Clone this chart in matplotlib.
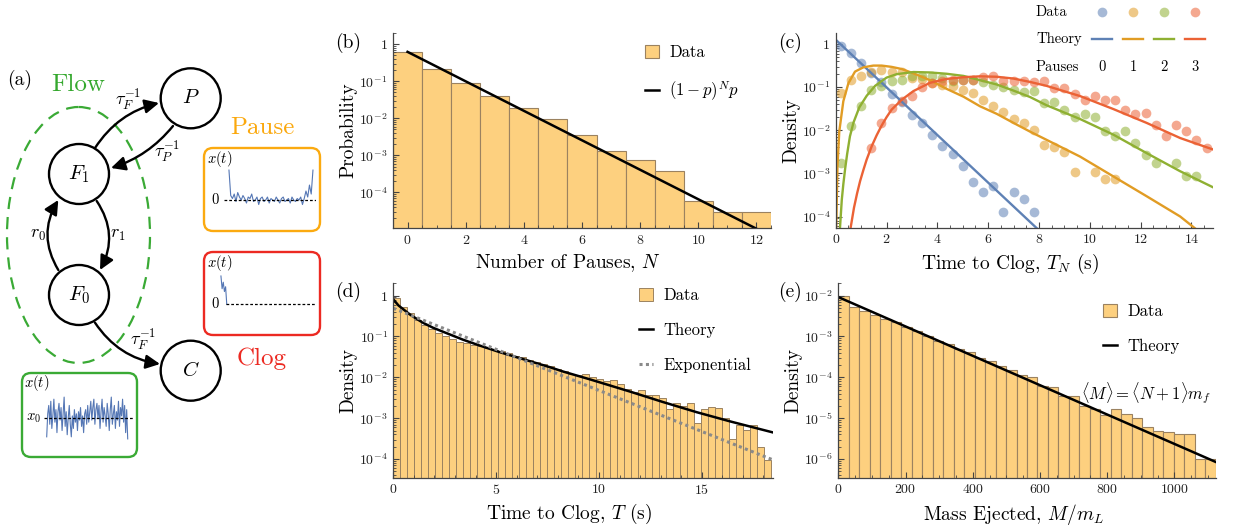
import matplotlib
matplotlib.use("Agg")
import matplotlib.pyplot as plt
import numpy as np
from matplotlib.patches import Circle, Ellipse, FancyArrowPatch, FancyBboxPatch
from matplotlib.ticker import FuncFormatter, LogLocator, MultipleLocator, NullFormatter

W, H = 1233, 529

plt.rcParams.update({
    "font.family": "cmr10",
    "mathtext.fontset": "cm",
    "axes.formatter.use_mathtext": True,
})

BLUE, ORANGE, GREEN, RED = "#5E81B5", "#E19C24", "#8FB032", "#EB6235"
BAR_FACE, BAR_EDGE = "#FDD07F", "#9B8260"
AXC = "#444444"
LABEL_SIZE = 14

# ---- (a) schematic traces (arbitrary units)
FLOW_SIG = [-0.9, 0.2, 0.6, -0.3, 0.8, -0.5, 0.1, 0.9, -0.2, 0.4, -0.7, 0.3, 0.7, -0.1,
            0.5, -0.6, 0.2, 1.0, -0.4, 0.3, -0.8, 0.0, 0.6, -0.3, -0.9, 0.1, -0.5, 0.4,
            -0.2, 0.2, -0.6, 0.3, -0.1, 0.5, -0.4, 0.1, -0.7, 0.2, 0.4, -0.3, 0.6, -0.2,
            0.3, 0.8, -0.1, 0.5, 0.9, -0.3, 0.4, 0.7, 0.0, 0.6, -0.5, 0.3, 0.9, -0.2, 0.5,
            0.1, -0.4, 0.7, 0.2, -0.6, 0.4, 1.0, -0.3, 0.2, 0.6, -0.5, 0.3, -0.1, 0.8,
            -0.4, 0.5, 0.1, 0.9, -0.2, 0.6, -0.7, 0.4, -1.0]
PAUSE_SIG = [1.0, 0.15, 0.05, 0.2, -0.05, 0.25, 0.1, 0.0, 0.15, 0.05, -0.1, 0.1, 0.05, 0.2,
             -0.05, 0.0, 0.1, -0.15, 0.05, 0.1, -0.05, 0.0, 0.1, -0.1, 0.05, 0.0, -0.05,
             0.1, 0.0, -0.1, 0.05, 0.1, -0.05, 0.0, 0.05, -0.1, 0.1, 0.0, -0.05, 0.05, 0.0,
             0.1, -0.15, 0.05, 0.3, 0.1, 0.5, 0.2, 1.0]
CLOG_SIG = [1.0, 0.55, 0.78, 0.45, 0.62, 0.0]

# ---- (b) number of pauses
N_PAUSES = list(range(13))
P_PAUSES = [0.63, 0.21, 0.092, 0.040, 0.019, 0.0096, 0.0035, 0.0013, 7.6e-4, 3.8e-4,
            5.9e-5, 2.9e-5, 2.9e-5]
GEOM_N = [0, 12]
GEOM_P = [0.62, 1.05e-5]

# ---- (c) time to clog conditioned on N pauses
T0_DATA = [0.2, 0.6, 1.0, 1.4, 1.8, 2.2, 2.6, 3.0, 3.4, 3.8, 4.2, 4.6, 5.0, 5.4, 5.8, 6.2,
           6.6, 7.0, 7.4, 7.8]
D0_DATA = [0.9, 0.62, 0.37, 0.21, 0.13, 0.068, 0.045, 0.023, 0.0145, 0.0079, 0.0044,
           0.0028, 0.0015, 6.2e-4, 3.8e-4, 5.0e-4, 1.3e-4, 3.8e-4, 2.5e-4, 1.3e-4]
T1_DATA = [0.2, 0.6, 1.0, 1.4, 1.8, 2.2, 2.6, 3.0, 3.4, 3.8, 4.2, 4.6, 5.0, 5.4, 5.8, 6.2,
           6.6, 7.0, 7.4, 7.8, 8.2, 8.6, 9.0, 9.4, 10.2, 10.6, 11.0]
D1_DATA = [0.075, 0.144, 0.18, 0.22, 0.25, 0.23, 0.22, 0.16, 0.155, 0.124, 0.11, 0.107,
           0.087, 0.075, 0.051, 0.037, 0.027, 0.018, 0.015, 0.0099, 0.0046, 0.0041, 0.0032,
           0.0011, 0.0011, 7.4e-4, 7.4e-4]
T2_DATA = [0.2, 0.6, 1.0, 1.4, 1.8, 2.2, 2.6, 3.0, 3.4, 3.8, 4.2, 4.6, 5.0, 5.4, 5.8, 6.2,
           6.6, 7.0, 7.4, 7.8, 8.2, 8.6, 9.0, 9.4, 9.8, 10.2, 10.6, 11.0, 11.4, 11.8, 12.2,
           12.6, 13.4, 13.8, 14.2]
D2_DATA = [0.0017, 0.0123, 0.037, 0.085, 0.105, 0.14, 0.15, 0.178, 0.18, 0.18, 0.16, 0.14,
           0.15, 0.15, 0.13, 0.11, 0.10, 0.087, 0.076, 0.080, 0.044, 0.045, 0.030, 0.020,
           0.024, 0.020, 0.0094, 0.0075, 0.0094, 0.0050, 0.0026, 0.00174, 0.00174, 8.6e-4,
           8.8e-4]
T3_DATA = [1.4, 1.8, 2.2, 2.6, 3.0, 3.4, 3.8, 4.2, 4.6, 5.0, 5.4, 5.8, 6.2, 6.6, 7.0, 7.4,
           7.8, 8.2, 8.6, 9.0, 9.4, 9.8, 10.2, 10.6, 11.0, 11.4, 11.8, 12.2, 12.6, 13.0,
           13.4, 13.8, 14.2, 14.6]
D3_DATA = [0.0038, 0.015, 0.033, 0.048, 0.062, 0.10, 0.127, 0.14, 0.148, 0.145, 0.15,
           0.175, 0.18, 0.14, 0.14, 0.136, 0.13, 0.136, 0.095, 0.095, 0.07, 0.049, 0.061,
           0.049, 0.049, 0.030, 0.024, 0.025, 0.0134, 0.0075, 0.0134, 0.0098, 0.0058, 0.0039]

T0_TH = [0.0, 8.0]
D0_TH = [1.26, 4.8e-5]
T1_TH = [0.02, 0.07, 0.14, 0.3, 0.5, 0.76, 1.09, 1.48, 1.81, 2.2, 2.6, 3.06, 3.71, 4.37,
         5.03, 5.68, 6.34, 7.0, 7.65, 8.3, 9.62, 10.93, 12.24, 13.56, 14.2]
D1_TH = [5.6e-5, 1.45e-3, 9.3e-3, 0.047, 0.123, 0.229, 0.288, 0.316, 0.316, 0.295, 0.263,
         0.209, 0.145, 0.091, 0.060, 0.036, 0.024, 0.0148, 0.0093, 0.0060, 0.00245, 8.5e-4,
         2.95e-4, 1.0e-4, 5.0e-5]
T2_TH = [0.17, 0.24, 0.30, 0.37, 0.45, 0.56, 0.70, 0.93, 1.22, 1.55, 2.0, 2.4, 3.06, 3.71,
         4.37, 5.03, 5.68, 6.34, 7.0, 7.65, 8.3, 9.62, 10.93, 12.24, 13.56, 14.84]
D2_TH = [5.6e-5, 2.45e-4, 5.6e-4, 1.26e-3, 2.8e-3, 7.2e-3, 0.0151, 0.034, 0.063, 0.107,
         0.166, 0.20, 0.224, 0.219, 0.204, 0.182, 0.145, 0.115, 0.083, 0.059, 0.038, 0.0182,
         0.0079, 0.00295, 0.00112, 4.8e-4]
T3_TH = [0.59, 0.72, 0.84, 0.96, 1.09, 1.22, 1.42, 1.61, 1.8, 2.0, 2.2, 2.6, 3.06, 3.71,
         4.37, 5.03, 5.68, 6.34, 7.0, 7.65, 8.3, 9.62, 10.93, 12.24, 13.56, 14.84]
D3_TH = [5.6e-5, 1.6e-4, 3.4e-4, 6.6e-4, 1.2e-3, 2.1e-3, 4.3e-3, 7.6e-3, 0.0126, 0.020,
         0.030, 0.051, 0.081, 0.126, 0.155, 0.170, 0.178, 0.174, 0.158, 0.132, 0.107, 0.062,
         0.031, 0.0148, 0.0066, 0.0036]

# ---- (d) time to clog
T_BIN = 0.34
T_HIST = [0.88, 0.52, 0.38, 0.26, 0.19, 0.15, 0.12, 0.10, 0.085, 0.075, 0.068, 0.063, 0.058,
          0.052, 0.047, 0.043, 0.039, 0.034, 0.031, 0.027, 0.024, 0.021, 0.019, 0.016, 0.014,
          0.012, 0.0115, 0.012, 0.010, 0.0090, 0.0082, 0.0087, 0.0068, 0.0052, 0.0045, 0.0049,
          0.0038, 0.0037, 0.0031, 0.00165, 0.0024, 0.0020, 0.0024, 0.00075, 0.0017, 0.0019,
          0.0018, 0.0010, 0.00031, 0.00069, 0.00052, 0.00069, 0.00020, 0.000096]
T_THEORY = [0, 0.25, 0.5, 0.8, 1.14, 1.46, 1.95, 2.6, 3.4, 4.2, 5.2, 6.3, 7.6, 8.27, 9.57,
            11.5, 13.1, 14.76, 16.4, 18.45]
D_THEORY = [0.81, 0.575, 0.457, 0.347, 0.269, 0.214, 0.162, 0.120, 0.083, 0.060, 0.041,
            0.028, 0.0178, 0.0138, 0.0089, 0.0045, 0.0025, 0.0014, 8.3e-4, 4.5e-4]
T_EXP = [0, 18.45]
D_EXP = [0.49, 9.6e-5]

# ---- (e) mass ejected
M_BIN = 31.2
M_HIST = [0.0098, 0.0052, 0.0041, 0.0034, 0.0027, 0.0022, 0.00175, 0.00139, 0.00104, 7.9e-4,
          6.5e-4, 5.0e-4, 4.1e-4, 2.9e-4, 2.5e-4, 1.9e-4, 1.47e-4, 1.15e-4, 1.0e-4, 6.2e-5,
          5.8e-5, 3.4e-5, 3.4e-5, 2.0e-5, 1.7e-5, 1.17e-5, 1.66e-5, 1.26e-5, 1.0e-5, 6.0e-6,
          5.0e-6, 4.5e-6, 4.0e-6, 4.0e-6, 1.0e-6, 1.0e-6]
M_THEORY = [0, 1123.2]
DM_THEORY = [0.0092, 8.5e-7]


def log_fmt(v, pos):
    e = int(round(np.log10(v)))
    return "$1$" if e == 0 else r"$10^{%d}$" % e


def px_axes(x0, y0, x1, y1):
    """Axes placed by pixel box (top-left origin)."""
    return fig.add_axes([x0 / W, 1 - y1 / H, (x1 - x0) / W, (y1 - y0) / H])


def style(ax, ylim, xlabel, ylabel):
    for s in ("top", "right"):
        ax.spines[s].set_visible(False)
    for s in ("left", "bottom"):
        ax.spines[s].set_color(AXC)
        ax.spines[s].set_linewidth(0.9)
    ax.set_yscale("log")
    ax.set_ylim(*ylim)
    ax.yaxis.set_major_locator(LogLocator(base=10, numticks=20))
    ax.yaxis.set_minor_locator(LogLocator(base=10, subs=np.arange(2, 10), numticks=20))
    ax.yaxis.set_major_formatter(FuncFormatter(log_fmt))
    ax.yaxis.set_minor_formatter(NullFormatter())
    ax.tick_params(which="both", direction="in", colors=AXC, labelcolor="#222222",
                   labelsize=10)
    ax.tick_params(which="major", length=4.5, width=0.8, pad=4)
    ax.tick_params(which="minor", length=2.3, width=0.6)
    ax.patch.set_alpha(0)
    ax.set_xlabel(xlabel, fontsize=LABEL_SIZE)
    ax.set_ylabel(ylabel, fontsize=LABEL_SIZE)
    ax.xaxis.set_label_coords(0.463, -0.125)
    ax.yaxis.set_label_coords(-0.095, 0.5)


def legend(ax, handles, labels, x, y, size=12):
    ax.legend(handles, labels, loc="upper left", bbox_to_anchor=(x / W, 1 - y / H),
              bbox_transform=fig.transFigure, frameon=False, fontsize=size,
              borderpad=0, borderaxespad=0, handlelength=0.85, handleheight=0.75,
              handletextpad=0.6, labelspacing=1.17)


fig = plt.figure(figsize=(W / 100, H / 100), dpi=100)

# ---------------- (b)
axb = px_axes(393, 33, 771, 228)
style(axb, (1.1e-5, 2), "Number of Pauses, $N$", "Probability")
bars_b = axb.bar(N_PAUSES, P_PAUSES, width=1.0, bottom=1e-9, color=BAR_FACE,
                 edgecolor=BAR_EDGE, linewidth=0.8)
line_b, = axb.plot(GEOM_N, GEOM_P, color="black", lw=1.8)
axb.set_xlim(-0.5, 12.5)
axb.xaxis.set_major_locator(MultipleLocator(2))
axb.xaxis.set_minor_locator(MultipleLocator(0.5))
legend(axb, [bars_b, line_b], ["Data", r"$(1-p)^N p$"], 645, 45)

# ---------------- (c)
axc = px_axes(835.7, 33, 1212.7, 227.7)
style(axc, (5.5e-5, 1.8), "Time to Clog, $T_N$ (s)", "Density")
series_c = [(T0_DATA, D0_DATA, T0_TH, D0_TH, BLUE), (T1_DATA, D1_DATA, T1_TH, D1_TH, ORANGE),
            (T2_DATA, D2_DATA, T2_TH, D2_TH, GREEN), (T3_DATA, D3_DATA, T3_TH, D3_TH, RED)]
for td, dd, tt, dt, col in series_c:
    axc.plot(td, dd, "o", color=col, alpha=0.55, ms=7, mew=0)
for td, dd, tt, dt, col in series_c:
    axc.plot(tt, dt, color=col, lw=1.7)
axc.set_xlim(0, 14.84)
axc.xaxis.set_major_locator(MultipleLocator(2))
axc.xaxis.set_minor_locator(MultipleLocator(0.5))

# ---------------- (d)
axd = px_axes(393.3, 283.3, 772.7, 477.7)
style(axd, (3.5e-5, 2), "Time to Clog, $T$ (s)", "Density")
bars_d = axd.bar(T_BIN * np.arange(len(T_HIST)), T_HIST, width=T_BIN, align="edge",
                 bottom=1e-9, color=BAR_FACE, edgecolor=BAR_EDGE, linewidth=0.7)
line_d, = axd.plot(T_THEORY, D_THEORY, color="black", lw=1.8)
exp_d, = axd.plot(T_EXP, D_EXP, color="#8A8A8A", lw=2.2, ls=(0, (1, 1.1)))
axd.set_xlim(0, 18.45)
axd.xaxis.set_major_locator(MultipleLocator(5))
axd.xaxis.set_minor_locator(MultipleLocator(1))
legend(axd, [bars_d, line_d, exp_d], ["Data", "Theory", "Exponential"], 639, 288)

# ---------------- (e)
axe = px_axes(838.3, 283.3, 1215.7, 477.7)
style(axe, (3.5e-7, 0.02), "Mass Ejected, $M/m_L$", "Density")
bars_e = axe.bar(M_BIN * np.arange(len(M_HIST)), M_HIST, width=M_BIN, align="edge",
                 bottom=1e-12, color=BAR_FACE, edgecolor=BAR_EDGE, linewidth=0.8)
line_e, = axe.plot(M_THEORY, DM_THEORY, color="black", lw=1.8)
axe.set_xlim(0, 1123.2)
axe.xaxis.set_major_locator(MultipleLocator(200))
axe.xaxis.set_minor_locator(MultipleLocator(50))
legend(axe, [bars_e, line_e], ["Data", "Theory"], 1103, 304)

# ---------------- overlay in pixel coordinates: (a) schematic, panel tags, (c) key
axa = fig.add_axes([0, 0, 1, 1])
axa.set_xlim(0, W)
axa.set_ylim(H, 0)
axa.axis("off")
axa.set_zorder(5)
axa.text(1146, 393, r"$\langle M\rangle = \langle N+1\rangle m_f$", fontsize=12,
         ha="center", va="center")

for tag, x, y in [("(a)", 20, 80), ("(b)", 348, 43), ("(c)", 790, 43),
                  ("(d)", 348, 292), ("(e)", 790, 292)]:
    axa.text(x, y, tag, fontsize=14, ha="center", va="center")

# (c) key laid out as a small grid
key_cols = [1102.3, 1133.3, 1164.3, 1195.0]
for lab, yy in [("Data", 11.7), ("Theory", 39.3), ("Pauses", 66.7)]:
    axa.text(1036, yy, lab, fontsize=10.5, ha="left", va="center")
for i, (xc, col) in enumerate(zip(key_cols, [BLUE, ORANGE, GREEN, RED])):
    axa.plot([xc], [11.7], "o", color=col, alpha=0.55, ms=7, mew=0)
    axa.plot([xc - 10, xc + 10], [39.3, 39.3], color=col, lw=1.7)
    axa.text(xc, 66.7, str(i), fontsize=10.5, ha="center", va="center")

# state diagram
nodes = {"P": (190.7, 98.3), "F1": (79, 174), "F0": (79, 295), "C": (190.7, 370.7)}
labels = {"P": "$P$", "F1": "$F_1$", "F0": "$F_0$", "C": "$C$"}
axa.add_patch(Ellipse((78.5, 235), 143, 256, fill=False, ec="#3AAA35", lw=1.6,
                      ls=(0, (5.5, 3.6))))
for k, (x, y) in nodes.items():
    axa.add_patch(Circle((x, y), 30, fc="white", ec="black", lw=1.7, zorder=3))
    axa.text(x, y, labels[k], fontsize=15, ha="center", va="center", zorder=4)


def arrow(p0, p1, rad):
    axa.add_patch(FancyArrowPatch(p0, p1, connectionstyle=f"arc3,rad={rad}",
                                  arrowstyle="-|>,head_length=0.85,head_width=0.42",
                                  mutation_scale=10, lw=1.7, color="black",
                                  shrinkA=0, shrinkB=0, zorder=4))


arrow((95, 148), (159, 103), -0.2)
arrow((173, 126), (111, 168), -0.15)
arrow((96.7, 201), (100, 270), -0.3)
arrow((58.3, 270), (58.3, 200), -0.3)
arrow((95, 322.7), (160, 364), 0.22)

axa.text(128, 100, r"$\tau_F^{-1}$", fontsize=13, ha="center", va="center")
axa.text(167, 152, r"$\tau_P^{-1}$", fontsize=13, ha="center", va="center")
axa.text(118, 235, r"$r_1$", fontsize=13, ha="center", va="center")
axa.text(38, 235, r"$r_0$", fontsize=13, ha="center", va="center")
axa.text(143, 340, r"$\tau_F^{-1}$", fontsize=13, ha="center", va="center")

axa.text(78, 85, "Flow", fontsize=18, color="#35A82E", ha="center", va="center")
axa.text(262, 128, "Pause", fontsize=18, color="#FBA80C", ha="center", va="center")
axa.text(262, 359, "Clog", fontsize=18, color="#EC2A22", ha="center", va="center")

for (x, y, w, h), col in [((204, 148, 116, 83), "#FBAA10"), ((204, 252, 116, 83), "#EC2A22"),
                          ((22, 373, 115, 84), "#3AAA35")]:
    axa.add_patch(FancyBboxPatch((x, y), w, h, boxstyle="round,pad=0,rounding_size=9",
                                 fill=False, ec=col, lw=1.7))

for x, y in [(220, 159), (220, 263), (37, 383)]:
    axa.text(x, y, "$x(t)$", fontsize=10.5, ha="center", va="center")
axa.text(215, 200, "$0$", fontsize=10.5, ha="center", va="center")
axa.text(215, 304, "$0$", fontsize=10.5, ha="center", va="center")
axa.text(33, 418, "$x_0$", fontsize=10.5, ha="center", va="center")

TRACE = "#5577B5"
DASH = (0, (2.2, 1.6))

ax_fl = px_axes(44, 395, 134, 441)
ax_fl.axis("off")
ax_fl.set_xlim(0, 1)
ax_fl.set_ylim(-1.1, 1.1)
ax_fl.plot(np.linspace(0.03, 0.93, len(FLOW_SIG)), FLOW_SIG, color=TRACE, lw=0.8)
ax_fl.axhline(0, color="black", lw=0.9, ls=DASH)

ax_pa = px_axes(224, 165, 316, 215)
ax_pa.axis("off")
ax_pa.set_xlim(0, 1)
ax_pa.set_ylim(-0.5, 1.17)
ax_pa.plot(np.linspace(0.054, 0.967, len(PAUSE_SIG)), PAUSE_SIG, color=TRACE, lw=0.8)
ax_pa.axhline(0, color="black", lw=0.9, ls=DASH)

ax_cl = px_axes(219, 270, 316, 320)
ax_cl.axis("off")
ax_cl.set_xlim(0, 1)
ax_cl.set_ylim(-0.555, 1.212)
ax_cl.plot(np.linspace(0.02, 0.08, len(CLOG_SIG)), CLOG_SIG, color=TRACE, lw=0.8)
ax_cl.axhline(0, xmin=0.072, color="black", lw=0.9, ls=DASH)

fig.savefig("out.png", dpi=100)
